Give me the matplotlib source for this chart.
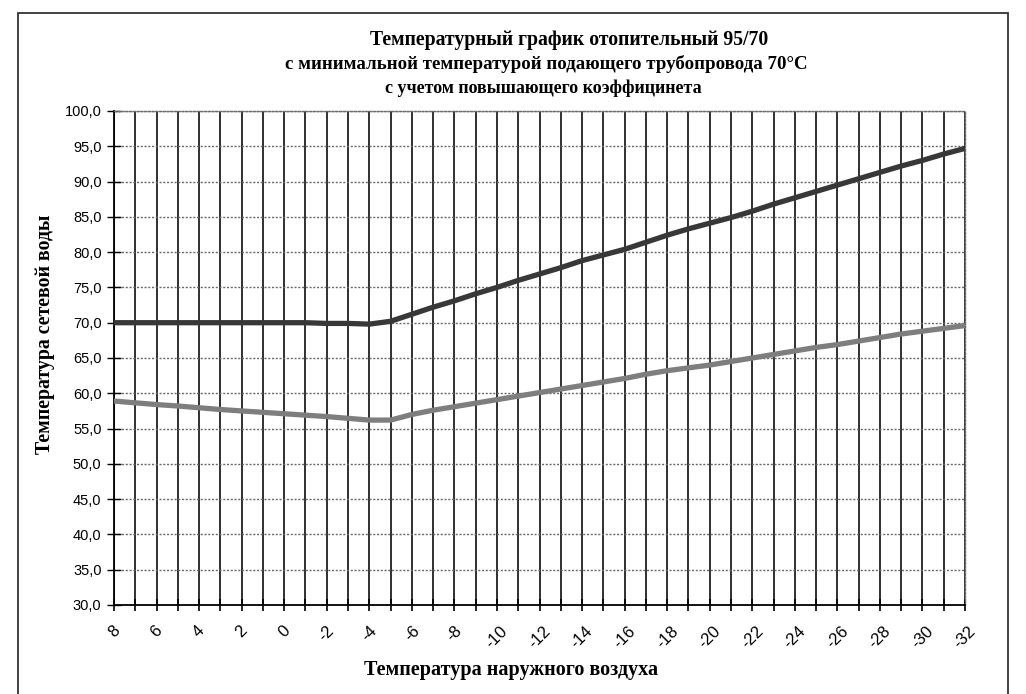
import matplotlib
matplotlib.use("Agg")
import matplotlib.pyplot as plt
from matplotlib.patches import Rectangle

# Data
outdoor_temp = list(range(8, -33, -1))  # 8 .. -32
supply_temp = [70.0, 70.0, 70.0, 70.0, 70.0, 70.0, 70.0, 70.0, 70.0, 70.0,
               69.9, 69.9, 69.8, 70.2, 71.2, 72.2, 73.1, 74.1, 75.0, 76.0,
               76.9, 77.8, 78.8, 79.6, 80.4, 81.4, 82.4, 83.3, 84.1, 84.9,
               85.8, 86.8, 87.7, 88.6, 89.5, 90.4, 91.3, 92.2, 93.0, 93.9, 94.7]
return_temp = [58.9, 58.65, 58.4, 58.2, 57.95, 57.7, 57.5, 57.3, 57.1, 56.9,
               56.7, 56.45, 56.2, 56.2, 57.0, 57.6, 58.1, 58.6, 59.1, 59.6,
               60.1, 60.6, 61.1, 61.6, 62.1, 62.7, 63.2, 63.6, 64.0, 64.5,
               65.0, 65.5, 66.0, 66.5, 66.9, 67.4, 67.9, 68.4, 68.8, 69.2, 69.6]
y_ticks = [30, 35, 40, 45, 50, 55, 60, 65, 70, 75, 80, 85, 90, 95, 100]

title_lines = ["Температурный график отопительный 95/70",
               "с минимальной температурой подающего трубопровода 70°C",
               "с учетом повышающего коэффицинета"]
xlabel = "Температура наружного воздуха"
ylabel = "Температура сетевой воды"

fig = plt.figure(figsize=(10.26, 6.94), dpi=100)
ax = fig.add_axes([114/1026, 1-605/694, (965-114)/1026, (605-111)/694])

pos = list(range(len(outdoor_temp)))
ax.plot(pos, supply_temp, color="#383838", lw=3.8, solid_capstyle="round", zorder=5)
ax.plot(pos, return_temp, color="#7e7e7e", lw=3.8, solid_capstyle="round", zorder=5)

ax.set_xlim(0, len(outdoor_temp) - 1)
ax.set_ylim(30, 100)

ax.set_xticks(pos)
ax.set_xticklabels([str(t) if t % 2 == 0 else "" for t in outdoor_temp],
                   rotation=45, fontsize=12, family="Liberation Sans",
                   ha="center", va="top")
ax.set_yticks(y_ticks)
ax.set_yticklabels([f"{v:.1f}".replace(".", ",") for v in y_ticks],
                   fontsize=10.5, family="Liberation Sans")

ax.tick_params(axis="x", direction="inout", length=8, width=1.2, pad=9, color="black")
ax.tick_params(axis="y", direction="inout", length=10, width=1.0, pad=4, color="black")

for x in pos:
    ax.axvline(x, color="#202020", lw=1.3, zorder=1)
for y in y_ticks[1:]:
    ax.axhline(y, color="#6a6a6a", lw=1.0, ls=(0, (1.5, 1.2)), zorder=1)

for s in ["top", "right"]:
    ax.spines[s].set_linestyle((0, (1.5, 1.2)))
    ax.spines[s].set_color("#6a6a6a")
    ax.spines[s].set_linewidth(1.0)
for s in ["left", "bottom"]:
    ax.spines[s].set_color("black")
    ax.spines[s].set_linewidth(1.3)

serif = "Liberation Serif"
title_x = [569, 546, 543]
title_size = [14.2, 13.6, 13.0]
for i, line in enumerate(title_lines):
    fig.text(title_x[i]/1026, 1 - (40 + 24*i)/694, line, ha="center", va="center",
             fontsize=title_size[i], fontweight="bold", family=serif)

fig.text(511/1026, 1 - 670/694, xlabel, ha="center", va="center",
         fontsize=14.5, fontweight="bold", family=serif)
fig.text(45/1026, 1 - 334/694, ylabel, ha="center", va="center", rotation=90,
         fontsize=14.3, fontweight="bold", family=serif)

fig.patches.append(Rectangle((18/1026, -0.05), (1008-18)/1026, 1.05 - 13/694,
                             transform=fig.transFigure, fill=False,
                             edgecolor="#333333", lw=1.3))

fig.savefig("out.png", dpi=100)
